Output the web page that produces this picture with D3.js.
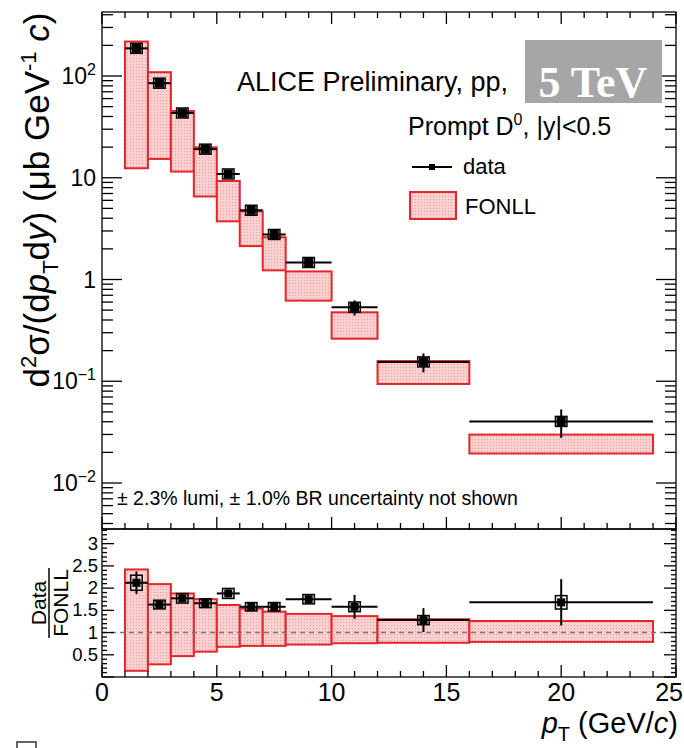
<!DOCTYPE html>
<html>
<head>
<meta charset="utf-8">
<script src="https://cdn.jsdelivr.net/npm/d3@7"></script>
<style>
  body { margin: 0; background: #fff; }
  svg { display: block; font-family: "Liberation Sans", Arial, sans-serif; }
</style>
</head>
<body>
<svg id="chart" width="684" height="748"></svg>
<script>
// pT bins (GeV/c)
const binLo = [1, 2, 3, 4, 5, 6, 7, 8, 10, 12, 16];
const binHi = [2, 3, 4, 5, 6, 7, 8, 10, 12, 16, 24];
const ptCenter = [1.5, 2.5, 3.5, 4.5, 5.5, 6.5, 7.5, 9, 11, 14, 20];

// cross section, data (ub GeV^-1 c)
const xsec = [187, 85, 43.3, 19.1, 10.9, 4.79, 2.77, 1.47, 0.533, 0.155, 0.0403];
const statRel = [0.12, 0.05, 0.05, 0.04, 0.05, 0.05, 0.07, 0.06, 0.17, 0.21, 0.31];
const systRel = [0.08, 0.06, 0.06, 0.06, 0.06, 0.06, 0.06, 0.06, 0.07, 0.08, 0.09];

// FONLL band
const fonllLo = [12.4, 15.3, 11.5, 6.55, 3.73, 2.13, 1.23, 0.62, 0.262, 0.094, 0.0195];
const fonllHi = [218, 109, 45.3, 19.9, 9.3, 4.67, 2.6, 1.2, 0.476, 0.158, 0.0299];

// Data / FONLL
const ratio = [2.12, 1.63, 1.77, 1.66, 1.88, 1.58, 1.58, 1.75, 1.58, 1.28, 1.68];
const ratioLo = [0.14, 0.285, 0.47, 0.57, 0.68, 0.70, 0.70, 0.73, 0.76, 0.77, 0.79];
const ratioHi = [2.42, 2.09, 1.88, 1.75, 1.62, 1.54, 1.47, 1.42, 1.37, 1.30, 1.26];

const xTicks = [0, 5, 10, 15, 20, 25];
const logTicks = [0.01, 0.1, 1, 10, 100];
const ratioTicks = [0.5, 1, 1.5, 2, 2.5, 3];

const svg = d3.select('#chart');
const L = 102, R = 676, T = 12, M = 529, B = 677;
const red = '#e3262b';

const x = d3.scaleLinear().domain([0, 25]).range([L, R]);
const y = d3.scaleLog().domain([Math.pow(10, -2.452), Math.pow(10, 2.629)]).range([M, T]);
const yr = d3.scaleLinear().domain([0, 3.33]).range([B, M]);

// dotted pink fill like the ROOT hatch
const defs = svg.append('defs');
const pat = defs.append('pattern').attr('id', 'dots')
    .attr('width', 3).attr('height', 3).attr('patternUnits', 'userSpaceOnUse');
pat.append('rect').attr('width', 3).attr('height', 3).attr('fill', '#fbd0d0');
pat.append('rect').attr('x', 1).attr('y', 1).attr('width', 1).attr('height', 1).attr('fill', '#ee9c9c');

const bins = d3.range(binLo.length);

// ---------- top panel ----------
const topG = svg.append('g');

topG.selectAll('rect.fonll').data(bins).enter().append('rect')
    .attr('x', i => x(binLo[i])).attr('width', i => x(binHi[i]) - x(binLo[i]))
    .attr('y', i => y(fonllHi[i])).attr('height', i => y(fonllLo[i]) - y(fonllHi[i]))
    .attr('fill', 'url(#dots)').attr('stroke', red).attr('stroke-width', 2);

// horizontal bars
topG.selectAll('line.hx').data(bins).enter().append('line')
    .attr('x1', i => x(binLo[i])).attr('x2', i => x(binHi[i]))
    .attr('y1', i => y(xsec[i])).attr('y2', i => y(xsec[i]))
    .attr('stroke', '#000').attr('stroke-width', 2);
// stat errors
topG.selectAll('line.ey').data(bins).enter().append('line')
    .attr('x1', i => x(ptCenter[i])).attr('x2', i => x(ptCenter[i]))
    .attr('y1', i => y(xsec[i] * (1 + statRel[i]))).attr('y2', i => y(xsec[i] * (1 - statRel[i])))
    .attr('stroke', '#000').attr('stroke-width', 2);
// syst boxes
topG.selectAll('rect.sys').data(bins).enter().append('rect')
    .attr('x', i => x(ptCenter[i] - 0.25)).attr('width', x(0.5) - x(0))
    .attr('y', i => Math.min(y(xsec[i] * (1 + systRel[i])), y(xsec[i]) - 5))
    .attr('height', i => Math.max(y(xsec[i] * (1 - systRel[i])) - y(xsec[i] * (1 + systRel[i])), 10))
    .attr('fill', 'none').attr('stroke', '#000').attr('stroke-width', 1.5);
topG.selectAll('rect.mk').data(bins).enter().append('rect')
    .attr('x', i => x(ptCenter[i]) - 4.5).attr('y', i => y(xsec[i]) - 4.5)
    .attr('width', 9).attr('height', 9).attr('fill', '#000');

// ---------- bottom panel ----------
const botG = svg.append('g');

botG.selectAll('rect.fonll').data(bins).enter().append('rect')
    .attr('x', i => x(binLo[i])).attr('width', i => x(binHi[i]) - x(binLo[i]))
    .attr('y', i => yr(ratioHi[i])).attr('height', i => yr(ratioLo[i]) - yr(ratioHi[i]))
    .attr('fill', 'url(#dots)').attr('stroke', red).attr('stroke-width', 2);

botG.append('line')
    .attr('x1', x(0)).attr('x2', x(25)).attr('y1', yr(1)).attr('y2', yr(1))
    .attr('stroke', '#777').attr('stroke-width', 1.5).attr('stroke-dasharray', '5,4');

botG.selectAll('line.hx').data(bins).enter().append('line')
    .attr('x1', i => x(binLo[i])).attr('x2', i => x(binHi[i]))
    .attr('y1', i => yr(ratio[i])).attr('y2', i => yr(ratio[i]))
    .attr('stroke', '#000').attr('stroke-width', 2);
botG.selectAll('line.ey').data(bins).enter().append('line')
    .attr('x1', i => x(ptCenter[i])).attr('x2', i => x(ptCenter[i]))
    .attr('y1', i => yr(ratio[i] * (1 + statRel[i]))).attr('y2', i => yr(ratio[i] * (1 - statRel[i])))
    .attr('stroke', '#000').attr('stroke-width', 2);
botG.selectAll('rect.sys').data(bins).enter().append('rect')
    .attr('x', i => x(ptCenter[i] - 0.25)).attr('width', x(0.5) - x(0))
    .attr('y', i => yr(ratio[i] * (1 + systRel[i])))
    .attr('height', i => yr(ratio[i] * (1 - systRel[i])) - yr(ratio[i] * (1 + systRel[i])))
    .attr('fill', 'none').attr('stroke', '#000').attr('stroke-width', 1.5);
botG.selectAll('rect.mk').data(bins).enter().append('rect')
    .attr('x', i => x(ptCenter[i]) - 4).attr('y', i => yr(ratio[i]) - 4)
    .attr('width', 8).attr('height', 8).attr('fill', '#000');

// ---------- frames and ticks ----------
const ax = svg.append('g').attr('stroke', '#000').attr('stroke-width', 1.3);
ax.append('rect').attr('x', L).attr('y', T).attr('width', R - L).attr('height', M - T).attr('fill', 'none');
ax.append('rect').attr('x', L).attr('y', M).attr('width', R - L).attr('height', B - M).attr('fill', 'none');

const xMinor = d3.range(0, 26);
xMinor.forEach(v => {
    const len = v % 5 === 0 ? 12 : 6;
    ax.append('line').attr('x1', x(v)).attr('x2', x(v)).attr('y1', T).attr('y2', T + len);
    ax.append('line').attr('x1', x(v)).attr('x2', x(v)).attr('y1', M).attr('y2', M - len);
    ax.append('line').attr('x1', x(v)).attr('x2', x(v)).attr('y1', B).attr('y2', B - len);
});

// log ticks
const [y0, y1] = y.domain();
for (let k = -3; k <= 2; k++) {
    for (let m = 1; m <= 9; m++) {
        const v = m * Math.pow(10, k);
        if (v < y0 || v > y1) continue;
        const len = m === 1 ? 20 : 11;
        ax.append('line').attr('x1', L).attr('x2', L + len).attr('y1', y(v)).attr('y2', y(v));
        ax.append('line').attr('x1', R).attr('x2', R - len).attr('y1', y(v)).attr('y2', y(v));
    }
}
// ratio ticks
d3.range(0, 34).forEach(j => {
    const v = j / 10;
    const len = j % 5 === 0 ? 12 : 5;
    ax.append('line').attr('x1', L).attr('x2', L + len).attr('y1', yr(v)).attr('y2', yr(v));
    ax.append('line').attr('x1', R).attr('x2', R - len).attr('y1', yr(v)).attr('y2', yr(v));
});

// ---------- tick labels ----------
svg.append('g').selectAll('text').data(xTicks).enter().append('text')
    .attr('x', d => d === 25 ? 683 : x(d)).attr('y', 701)
    .attr('text-anchor', d => d === 25 ? 'end' : 'middle')
    .attr('font-size', 25).text(d => d);

svg.append('g').selectAll('text').data(ratioTicks).enter().append('text')
    .attr('x', 98).attr('y', d => yr(d) + 6).attr('text-anchor', 'end')
    .attr('font-size', 18.5).text(d => d);

const logLab = svg.append('g').selectAll('text').data(logTicks).enter().append('text')
    .attr('x', 96).attr('y', d => y(d) + 8).attr('text-anchor', 'end').attr('font-size', 23);
logLab.each(function (d) {
    const t = d3.select(this);
    const e = Math.round(Math.log10(d));
    if (e === 0) { t.text('1'); return; }
    if (e === 1) { t.text('10'); return; }
    t.append('tspan').text('10');
    t.append('tspan').attr('dy', -9).attr('font-size', 16).text(e < 0 ? '\u2212' + (-e) : e);
});

// ---------- axis titles ----------
const yt = svg.append('text').attr('transform', 'translate(49,200) rotate(-90)')
    .attr('text-anchor', 'middle').attr('font-size', 35);
yt.append('tspan').text('d');
yt.append('tspan').attr('dy', -13).attr('font-size', 22).text('2');
yt.append('tspan').attr('dy', 13).text('\u03C3/(d');
yt.append('tspan').attr('font-style', 'italic').text('p');
yt.append('tspan').attr('dy', 9).attr('font-size', 22).text('T');
yt.append('tspan').attr('dy', -9).text('d');
yt.append('tspan').attr('font-style', 'italic').text('y');
yt.append('tspan').text(') (\u03BCb GeV');
yt.append('tspan').attr('dy', -13).attr('font-size', 22).text('-1');
yt.append('tspan').attr('dy', 13).text(' ');
yt.append('tspan').attr('font-style', 'italic').text('c');
yt.append('tspan').text(')');

const fr = svg.append('g').attr('transform', 'translate(0,603) rotate(-90)');
fr.append('text').attr('x', 0).attr('y', 46).attr('text-anchor', 'middle').attr('font-size', 21).text('Data');
fr.append('line').attr('x1', -35).attr('x2', 35).attr('y1', 49).attr('y2', 49).attr('stroke', '#000').attr('stroke-width', 1.5);
fr.append('text').attr('x', 0).attr('y', 68).attr('text-anchor', 'middle').attr('font-size', 21).text('FONLL');

const xt = svg.append('text').attr('x', 678).attr('y', 733).attr('text-anchor', 'end').attr('font-size', 29);
xt.append('tspan').attr('font-style', 'italic').text('p');
xt.append('tspan').attr('dy', 8).attr('font-size', 20).text('T');
xt.append('tspan').attr('dy', -8).text(' (GeV/');
xt.append('tspan').attr('font-style', 'italic').text('c');
xt.append('tspan').text(')');

// ---------- labels / legend ----------
svg.append('text').attr('x', 237).attr('y', 91).attr('font-size', 27).text('ALICE Preliminary, pp,');
svg.append('rect').attr('x', 525).attr('y', 40).attr('width', 137).attr('height', 63).attr('fill', '#a6a6a6');
svg.append('text').attr('x', 593).attr('y', 97).attr('text-anchor', 'middle')
    .attr('font-family', '"Liberation Serif", "Times New Roman", serif').attr('font-weight', 'bold')
    .attr('font-size', 44).attr('fill', '#fff').text('5 TeV');

const pr = svg.append('text').attr('x', 408).attr('y', 135).attr('font-size', 25);
pr.append('tspan').text('Prompt D');
pr.append('tspan').attr('dy', -10).attr('font-size', 16).text('0');
pr.append('tspan').attr('dy', 10).text(', |y|<0.5');

svg.append('line').attr('x1', 412).attr('x2', 452).attr('y1', 167).attr('y2', 167).attr('stroke', '#000').attr('stroke-width', 2);
svg.append('rect').attr('x', 429).attr('y', 164).attr('width', 6).attr('height', 6).attr('fill', '#000');
svg.append('text').attr('x', 463).attr('y', 174).attr('font-size', 22).text('data');

svg.append('rect').attr('x', 410).attr('y', 192).attr('width', 46).attr('height', 27)
    .attr('fill', 'url(#dots)').attr('stroke', red).attr('stroke-width', 2);
svg.append('text').attr('x', 465).attr('y', 214).attr('font-size', 22).text('FONLL');

svg.append('text').attr('x', 117).attr('y', 505).attr('font-size', 19.5)
    .text('\u00B1 2.3% lumi, \u00B1 1.0% BR uncertainty not shown');

// cropped glyph at lower-left edge of the source picture
svg.append('path').attr('d', 'M17,748 V742 H36 V748').attr('fill', 'none')
    .attr('stroke', '#666').attr('stroke-width', 2);
</script>
</body>
</html>
